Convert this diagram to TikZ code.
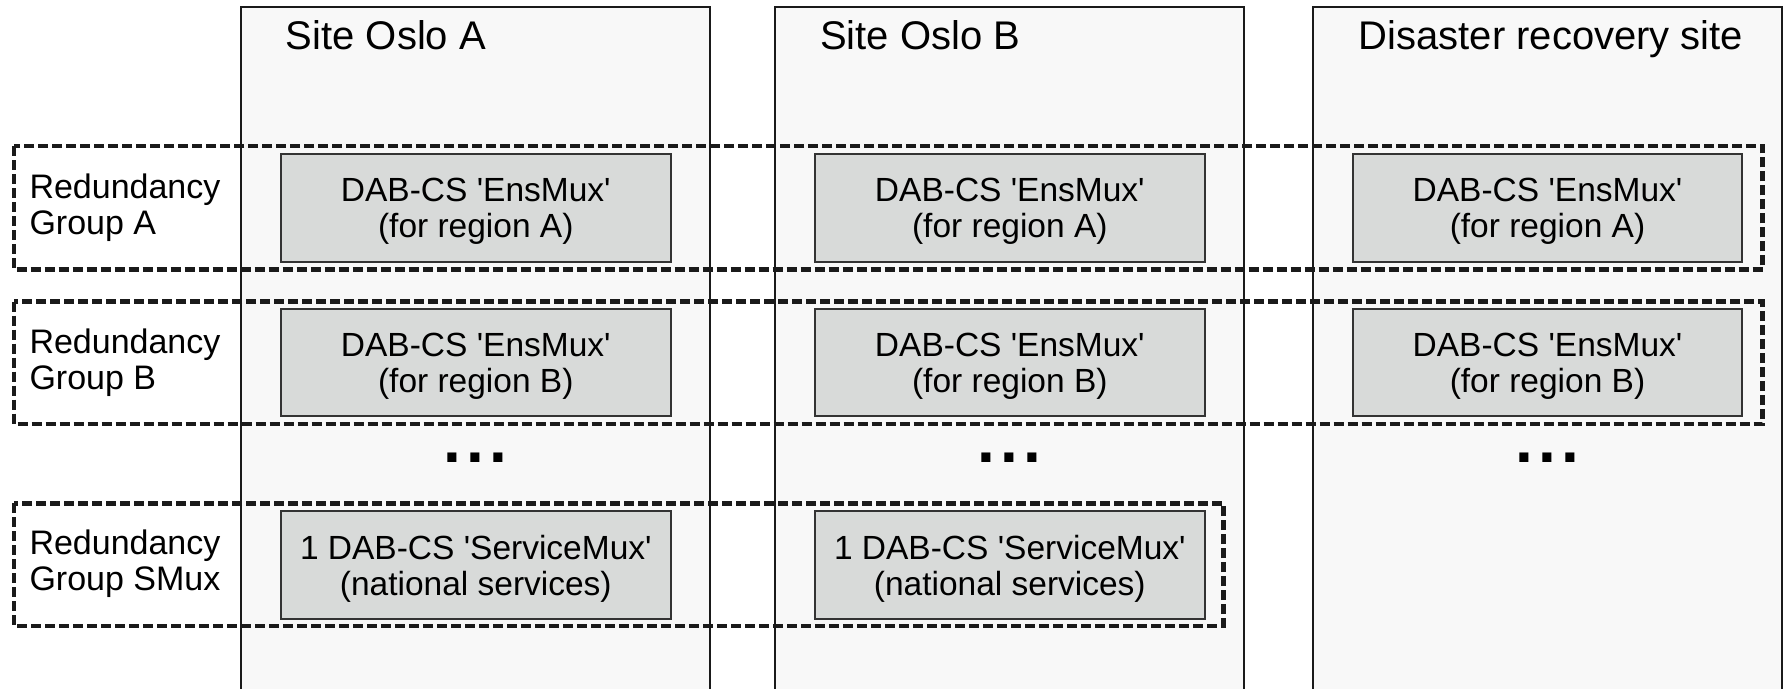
\documentclass[tikz,border=0pt]{standalone}
\usepackage{fontspec}
\setmainfont{Liberation Sans}
\definecolor{colfill}{HTML}{F8F8F8}
\definecolor{boxfill}{HTML}{D8DAD9}
\definecolor{lineclr}{HTML}{1A1A1A}
\definecolor{boxline}{HTML}{333333}
\newcommand{\sq}{\textquotesingle}
\begin{document}
\begin{tikzpicture}[x=1pt,y=-1pt,
  colbg/.style={fill=colfill},
  colline/.style={draw=lineclr,line width=2pt},
  muxbox/.style={draw=boxline,fill=boxfill,line width=2pt,minimum width=389.6pt,minimum height=107.2pt,inner sep=0pt},
  muxtext/.style={inner sep=0pt,align=center,yshift=-3.4pt,font=\fontsize{33.5}{36}\selectfont},
  group/.style={draw=lineclr,line width=4.8pt,dash pattern=on 10pt off 4pt},
  grouplabel/.style={anchor=base west,align=left,inner sep=0pt,font=\fontsize{34}{36}\selectfont},
  sitetitle/.style={anchor=base west,inner sep=0pt,font=\fontsize{40}{48}\selectfont},
  moredots/.style={anchor=base,inner sep=0pt,font=\fontsize{64}{64}\selectfont\bfseries}]
\useasboundingbox (0,0) rectangle (1785,688);
\fill[white] (0,0) rectangle (1785,688);
% columns
\fill[colbg] (240.7,7.3) rectangle (710,700);
\fill[colbg] (775,7.3) rectangle (1244.3,700);
\fill[colbg] (1313.3,7.3) rectangle (1781.7,700);
\draw[colline] (240.7,700) -- (240.7,7.3) -- (710,7.3) -- (710,700);
\draw[colline] (775,700) -- (775,7.3) -- (1244.3,7.3) -- (1244.3,700);
\draw[colline] (1313.3,700) -- (1313.3,7.3) -- (1781.7,7.3) -- (1781.7,700);
% titles
\node[sitetitle] (tA) at (285.7,49.3) {Site Oslo A};
\node[sitetitle] (tB) at (820,49.3) {Site Oslo B};
\node[sitetitle] (tD) at (1358.5,49.3) {Disaster recovery site};
% boxes
\node[muxbox] (a1) at (475.8,207.9) {};
\node[muxbox] (a2) at (1009.8,207.9) {};
\node[muxbox] (a3) at (1547.5,207.9) {};
\node[muxbox] (b1) at (475.8,362.8) {};
\node[muxbox] (b2) at (1009.8,362.8) {};
\node[muxbox] (b3) at (1547.5,362.8) {};
\node[muxbox] (s1) at (475.8,565) {};
\node[muxbox] (s2) at (1009.8,565) {};
\node[muxtext] (a1t) at (a1.center) {DAB-CS \sq EnsMux\sq\\(for region A)};
\node[muxtext] (a2t) at (a2.center) {DAB-CS \sq EnsMux\sq\\(for region A)};
\node[muxtext] (a3t) at (a3.center) {DAB-CS \sq EnsMux\sq\\(for region A)};
\node[muxtext] (b1t) at (b1.center) {DAB-CS \sq EnsMux\sq\\(for region B)};
\node[muxtext] (b2t) at (b2.center) {DAB-CS \sq EnsMux\sq\\(for region B)};
\node[muxtext] (b3t) at (b3.center) {DAB-CS \sq EnsMux\sq\\(for region B)};
\node[muxtext] (s1t) at (s1.center) {1 DAB-CS \sq ServiceMux\sq\\(national services)};
\node[muxtext] (s2t) at (s2.center) {1 DAB-CS \sq ServiceMux\sq\\(national services)};
% dots
\node[moredots] (d1) at (475.5,462) {.\kern5.2pt.\kern5.2pt.};
\node[moredots] (d2) at (1009.5,462) {.\kern5.2pt.\kern5.2pt.};
\node[moredots] (d3) at (1547.5,462) {.\kern5.2pt.\kern5.2pt.};
% groups
\draw[group] (14,146) rectangle (1762.7,269.3);
\draw[group] (14,301.7) rectangle (1762.7,424);
\draw[group] (14,503.3) rectangle (1223.3,626);
% labels (base anchor = last line)
\node[grouplabel] (gA) at (29.3,234.3) {Redundancy\\Group A};
\node[grouplabel] (gB) at (29.3,389) {Redundancy\\Group B};
\node[grouplabel] (gS) at (29.3,590) {Redundancy\\Group SMux};
\end{tikzpicture}
\end{document}
